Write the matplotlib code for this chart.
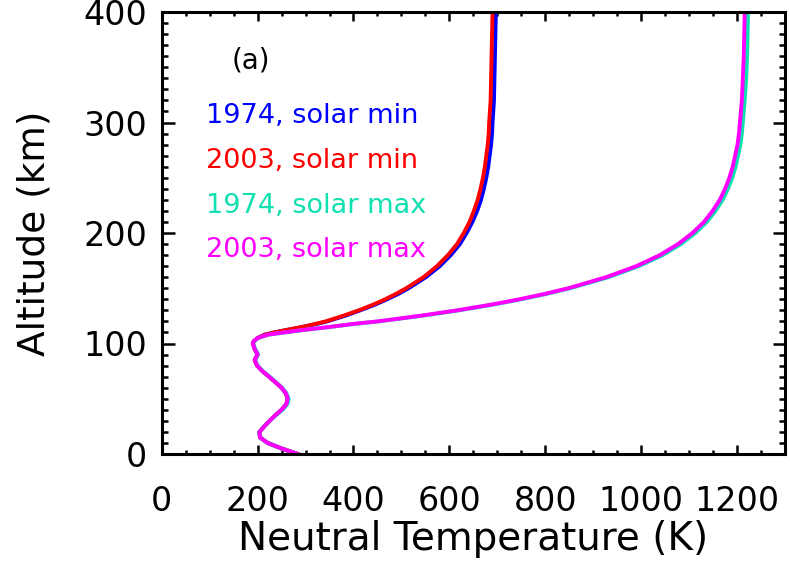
import numpy as np
import matplotlib.pyplot as plt
from matplotlib.ticker import MultipleLocator

# altitude grid (km): troposphere to mesosphere, then thermosphere
alt_low = [0, 5, 10, 15, 20, 25, 30, 35, 40, 45, 50, 55, 60, 65, 70, 75,
           80, 85, 90, 95, 100]
alt_high = [102, 105, 108, 110, 112, 115, 118, 120, 125, 130, 135, 140, 145,
            150, 160, 170, 180, 190, 200, 210, 220, 230, 240, 250, 260, 270,
            280, 290, 300, 320, 340, 360, 380, 400]
alt = alt_low + alt_high

# neutral temperature (K)
low_common = [284, 250, 221, 205, 204, 214, 225, 237, 250, 260, 263, 259,
              250, 237, 224, 210, 199, 194, 200, 194, 190]
low_1974_max = [284, 250, 221, 205, 204, 214, 225, 238, 252, 262, 265, 260,
                251, 238, 225, 211, 200, 195, 201, 195, 191]

t_1974_min = low_common + [192, 200, 215, 235, 258, 295, 326, 345, 382, 414,
                           444, 470, 494, 515, 551, 580, 603, 622, 636, 648,
                           658, 666, 672, 677, 681, 684, 687, 689, 690, 693,
                           694, 695, 696, 697]
t_2003_min = low_common + [192, 200, 215, 235, 257, 293, 323, 342, 378, 411,
                           440, 466, 489, 510, 546, 574, 597, 616, 630, 642,
                           651, 659, 665, 670, 674, 677, 680, 682, 683, 686,
                           687, 688, 689, 690]
t_1974_max = low_1974_max + [193, 201, 223, 257, 292, 352, 408, 453, 542,
                             620, 689, 750, 804, 852, 932, 995, 1045, 1083,
                             1113, 1137, 1155, 1170, 1181, 1190, 1197, 1202,
                             1207, 1210, 1212, 1216, 1219, 1221, 1222, 1223]
t_2003_max = low_common + [192, 200, 222, 255, 290, 350, 405, 450, 538, 616,
                           685, 746, 800, 848, 927, 990, 1039, 1077, 1107,
                           1131, 1149, 1164, 1175, 1184, 1191, 1196, 1201,
                           1204, 1206, 1210, 1212, 1214, 1215, 1216]

series = [
    ('1974, solar min', t_1974_min, '#0000FF'),
    ('2003, solar min', t_2003_min, '#FF0000'),
    ('1974, solar max', t_1974_max, '#10E0B0'),
    ('2003, solar max', t_2003_max, '#FF00FF'),
]

xticks = [0, 200, 400, 600, 800, 1000, 1200]
yticks = [0, 100, 200, 300, 400]

W, H = 790, 566
fig = plt.figure(figsize=(W / 100, H / 100), dpi=100)
x0, x1, ytop, ybot = 161.7, 785, 12, 454
ax = fig.add_axes([x0 / W, 1 - ybot / H, (x1 - x0) / W, (ybot - ytop) / H])

for label, temp, col in series:
    ax.plot(temp, alt, color=col, lw=2.8, solid_joinstyle='round')

ax.set_xlim(0, 1300)
ax.set_ylim(0, 400)
ax.set_xticks(xticks)
ax.set_yticks(yticks)
ax.xaxis.set_minor_locator(MultipleLocator(50))
ax.yaxis.set_minor_locator(MultipleLocator(10))

for s in ax.spines.values():
    s.set_linewidth(2.2)
ax.tick_params(which='both', direction='in', top=True, right=True, width=1.8,
               labelsize=24)
ax.xaxis.set_tick_params(which='major', length=6.5, pad=22)
ax.xaxis.set_tick_params(which='minor', length=3.2)
ax.yaxis.set_tick_params(which='major', length=9, pad=10.5)
ax.yaxis.set_tick_params(which='minor', length=4.3)

ax.set_xlabel('Neutral Temperature (K)', fontsize=28, labelpad=2)
ax.set_ylabel('Altitude (km)', fontsize=27, labelpad=22)


def axfrac(px, py):
    return (px - x0) / (x1 - x0), (ybot - py) / (ybot - ytop)


ax.text(*axfrac(232, 68), '(a)', transform=ax.transAxes, fontsize=20,
        va='baseline', ha='left')
for (label, temp, col), base in zip(series, [123, 168, 213, 257]):
    ax.text(*axfrac(206, base), label, transform=ax.transAxes, fontsize=19.5,
            color=col, va='baseline', ha='left')

fig.savefig('out.png', dpi=100)
